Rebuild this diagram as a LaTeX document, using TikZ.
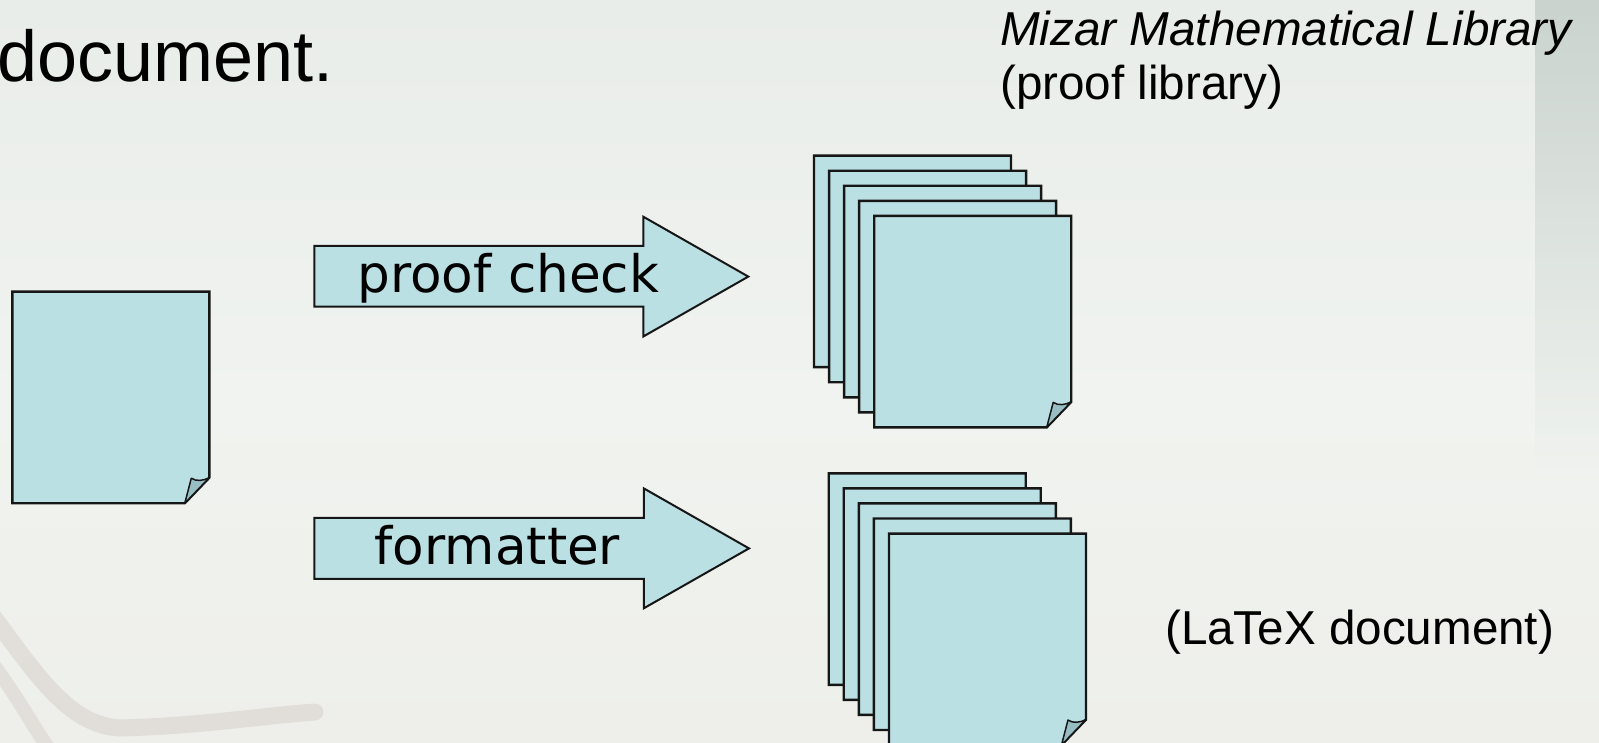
\documentclass[tikz,border=0pt]{standalone}
\usepackage{fontspec}
\setmainfont{Liberation Sans}
\newfontfamily\vfont{DejaVu Sans}
\definecolor{bgc}{RGB}{233,237,234}
\definecolor{bgmid}{RGB}{240,243,239}
\definecolor{bgbot}{RGB}{238,239,234}
\definecolor{stripc}{RGB}{182,194,188}
\definecolor{bandc}{RGB}{175,150,148}
\definecolor{paper}{RGB}{187,224,227}
\definecolor{foldc}{RGB}{152,190,196}
\definecolor{ink}{RGB}{22,22,22}
\tikzset{
  sheetstyle/.style={fill=paper, draw=ink, line width=2.4pt, line join=miter},
  foldstyle/.style={fill=foldc, draw=ink, line width=1.5pt, line join=round},
  blockarrow/.style={fill=paper, draw=ink, line width=2pt, line join=miter},
  lbl/.style={inner sep=0pt, anchor=base west, text=black},
  arrlbl/.style={inner sep=0pt, anchor=base, text=black, font=\vfont\fontsize{51.6}{60}\selectfont},
}
% a sheet with a curled bottom-right corner; #1 name, (#2,#3) top-left corner
\newcommand\mysheet[3]{%
  \begin{scope}[shift={(#2,#3)}]
    \coordinate (#1) at (0,0);
    \draw[sheetstyle] (0,0) -- (197,0) -- (197,186) -- (172.5,211.5) -- (0,211.5) -- cycle;
    \draw[foldstyle] (172.5,211.5) -- (179,186.5)
      .. controls (184,190) and (191,189) .. (197,186) -- cycle;
  \end{scope}}
\begin{document}
\begin{tikzpicture}[x=1pt,y=-1pt]
  \useasboundingbox (0,0) rectangle (1599,743);
  % background
  \shade[top color=bgc, bottom color=bgmid] (0,0) rectangle (1599,400);
  \shade[top color=bgmid, bottom color=bgbot] (0,400) rectangle (1599,743);
  \shade[top color=stripc, bottom color=bgmid, opacity=0.6] (1535,0) rectangle (1599,480);
  \draw[bandc, line width=17pt, opacity=0.2, line cap=round]
    (-10,612) .. controls (40,680) and (70,725) .. (120,728) .. controls (200,726) and (260,716) .. (315,712);
  \draw[bandc, line width=14pt, opacity=0.18]
    (-10,660) .. controls (20,700) and (35,730) .. (50,750);

  % title fragment
  \node[lbl, font=\fontsize{72}{80}\selectfont] (doc) at (-3,81.7) {document.};

  % single source sheet
  \mysheet{src}{12.3}{291.7}

  % block arrows
  \draw[blockarrow] (314.3,246) -- (643.3,246) -- (643.3,216.7) -- (748.3,276.6)
    -- (643.3,336.5) -- (643.3,306.7) -- (314.3,306.7) -- cycle;
  \node[arrlbl] (pc) at (508.3,292.3) {proof check};
  \draw[blockarrow] (314.3,517.9) -- (643.8,517.9) -- (643.8,488.4) -- (749,548.4)
    -- (643.8,608.3) -- (643.8,578.9) -- (314.3,578.9) -- cycle;
  \node[arrlbl] (fm) at (497.5,564.3) {formatter};

  % stack of library sheets
  \foreach \i in {0,...,4} {\mysheet{lib\i}{814+15.05*\i}{155.7+15.05*\i}}
  % stack of LaTeX documents
  \foreach \i in {0,...,4} {\mysheet{tex\i}{828.7+15.07*\i}{473.3+15.07*\i}}

  % labels
  \node[lbl, font=\itshape\fontsize{47.6}{54}\selectfont] (mml) at (1000,46) {Mizar Mathematical Library};
  \node[lbl, font=\fontsize{47.6}{54}\selectfont] (pl) at (1000,100) {(proof library)};
  \node[lbl, font=\fontsize{47.6}{54}\selectfont] (ltx) at (1165,644.3) {(LaTeX document)};
\end{tikzpicture}
\end{document}
